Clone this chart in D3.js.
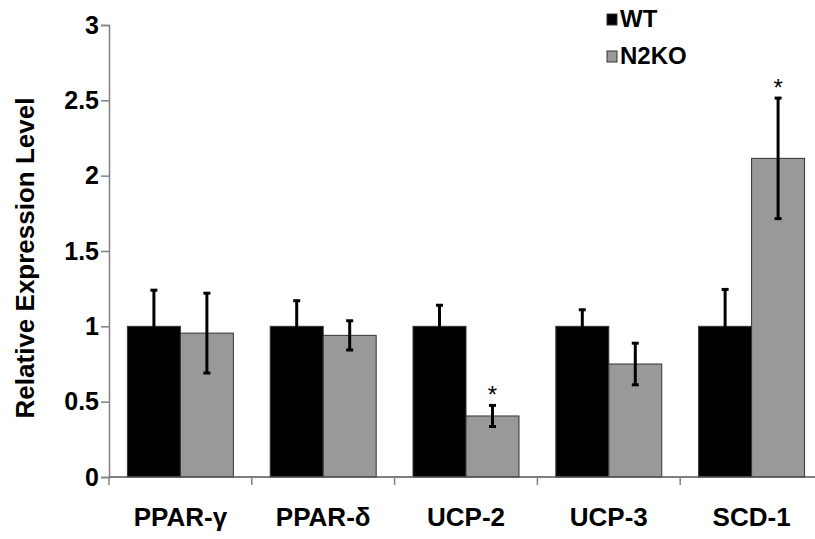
<!DOCTYPE html>
<html>
<head>
<meta charset="utf-8">
<script src="https://cdn.jsdelivr.net/npm/d3@7"></script>
<style>
  html, body { margin: 0; padding: 0; background: #fff; }
  svg { display: block; }
  text { font-family: "Liberation Sans", Arial, sans-serif; font-weight: bold; fill: #000; }
</style>
</head>
<body>
<svg id="chart" width="815" height="539"></svg>
<script>
// Gene expression, WT vs N2KO (mean ± error)
const categories = ["PPAR-γ", "PPAR-δ", "UCP-2", "UCP-3", "SCD-1"];
const seriesNames = ["WT", "N2KO"];
const wtValues   = [1.00, 1.00, 1.00, 1.00, 1.00];
const wtErrors   = [0.24, 0.17, 0.14, 0.11, 0.245];
const n2koValues = [0.955, 0.94, 0.405, 0.75, 2.115];
const n2koErrors = [0.265, 0.097, 0.07, 0.138, 0.40];
const significant = [false, false, true, false, true]; // N2KO vs WT
const yTicks = [0, 0.5, 1, 1.5, 2, 2.5, 3];
const yTickLabels = ["0", "0.5", "1", "1.5", "2", "2.5", "3"];
const seriesColors = ["#000000", "#999999"];

const rows = categories.map((c, i) => ({
  category: c,
  bars: [
    { series: seriesNames[0], value: wtValues[i],   err: wtErrors[i],   sig: false },
    { series: seriesNames[1], value: n2koValues[i], err: n2koErrors[i], sig: significant[i] }
  ]
}));

const svg = d3.select("#chart");
const plotLeft = 109, plotTop = 25, plotBottom = 477;
const step = 142.8;
const plotRight = plotLeft + step * categories.length;

const y = d3.scaleLinear().domain([0, 3]).range([plotBottom, plotTop]);
const x = d3.scaleBand().domain(categories).range([plotLeft, plotRight])
  .paddingInner(0.258).paddingOuter(0.129);
const xs = d3.scaleBand().domain(seriesNames).range([0, x.bandwidth()]);
const color = d3.scaleOrdinal().domain(seriesNames).range(seriesColors);

// Bars
const groups = svg.append("g").selectAll("g").data(rows).join("g")
  .attr("transform", d => `translate(${x(d.category)},0)`);

groups.selectAll("rect").data(d => d.bars).join("rect")
  .attr("x", d => xs(d.series))
  .attr("y", d => y(d.value))
  .attr("width", xs.bandwidth())
  .attr("height", d => y(0) - y(d.value))
  .attr("fill", d => color(d.series))
  .attr("stroke", "#333")
  .attr("stroke-width", 1);

// Error bars
const cap = 3.5;
const eb = groups.selectAll("g.err").data(d => d.bars).join("g").attr("class", "err")
  .attr("transform", d => `translate(${xs(d.series) + xs.bandwidth() / 2},0)`);
eb.append("line")
  .attr("y1", d => y(d.value - d.err)).attr("y2", d => y(d.value + d.err))
  .attr("stroke", "#000").attr("stroke-width", 3);
eb.append("line")
  .attr("x1", -cap).attr("x2", cap)
  .attr("y1", d => y(d.value + d.err)).attr("y2", d => y(d.value + d.err))
  .attr("stroke", "#000").attr("stroke-width", 3);
eb.append("line")
  .attr("x1", -cap).attr("x2", cap)
  .attr("y1", d => y(d.value - d.err)).attr("y2", d => y(d.value - d.err))
  .attr("stroke", "#000").attr("stroke-width", 3);

// Significance marks
eb.filter(d => d.sig).append("text")
  .attr("y", d => y(d.value + d.err) - 2)
  .attr("text-anchor", "middle")
  .style("font-weight", "normal")
  .style("font-size", "24px")
  .text("*");

// Y axis
const yAxis = d3.axisLeft(y).tickValues(yTicks)
  .tickFormat((d, i) => yTickLabels[i]).tickSize(8).tickPadding(2);
const gy = svg.append("g").attr("transform", `translate(${plotLeft},0)`).call(yAxis);
gy.select(".domain").attr("stroke", "#808080").attr("stroke-width", 1.5);
gy.selectAll(".tick line").attr("stroke", "#808080").attr("stroke-width", 1.5);
gy.selectAll(".tick text").style("font-size", "25px")
  .style("font-family", "Liberation Sans, Arial, sans-serif")
  .style("font-weight", "bold").attr("fill", "#000");

// X axis: ticks at category boundaries
const boundaries = d3.range(categories.length + 1).map(i => plotLeft + i * x.step());
const gx = svg.append("g");
gx.append("line").attr("x1", plotLeft).attr("x2", plotRight).attr("y1", plotBottom).attr("y2", plotBottom)
  .attr("stroke", "#555").attr("stroke-width", 1.5);
gx.selectAll("line.tk").data(boundaries).join("line").attr("class", "tk")
  .attr("x1", d => d).attr("x2", d => d).attr("y1", plotBottom).attr("y2", plotBottom + 8)
  .attr("stroke", "#808080").attr("stroke-width", 1.5);
gx.selectAll("text").data(categories).join("text")
  .attr("x", d => x(d) + x.bandwidth() / 2)
  .attr("y", 526)
  .attr("text-anchor", "middle")
  .style("font-size", "26px")
  .text(d => d);

// Y axis title
svg.append("text")
  .attr("transform", `translate(34,258) rotate(-90)`)
  .attr("text-anchor", "middle")
  .style("font-size", "26px")
  .text("Relative Expression Level");

// Legend
const legend = svg.append("g").selectAll("g").data(seriesNames).join("g")
  .attr("transform", (d, i) => `translate(607,${14 + i * 37})`);
legend.append("rect").attr("width", 10).attr("height", 11)
  .attr("fill", d => color(d)).attr("stroke", "#333").attr("stroke-width", 1);
legend.append("text").attr("x", 13).attr("y", 13)
  .style("font-size", "24px").text(d => d);
</script>
</body>
</html>
